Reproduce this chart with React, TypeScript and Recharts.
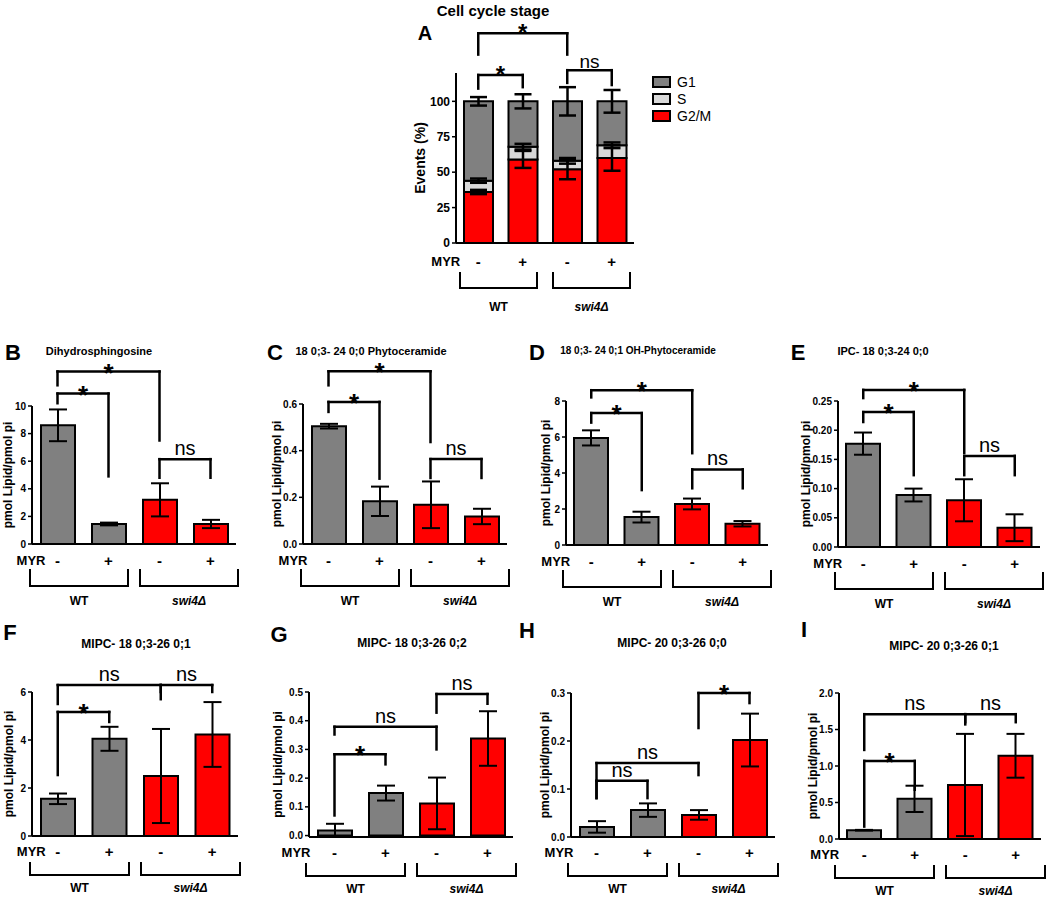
import React from 'react';
import { BarChart, Bar, XAxis, YAxis, ErrorBar, Cell, ReferenceLine, Legend } from 'recharts';

// categories shared by every panel
const CONDITIONS = ['WT-', 'WT+', 'swi4-', 'swi4+'];
const MYR_SIGNS = ['-', '+', '-', '+'];
const GROUPS = ['WT', 'swi4Δ'];
const GRAY = '#808080';
const RED = '#ff0000';
const BAR_COLORS = [GRAY, GRAY, RED, RED];

// A: cell cycle stage, events (%)
const STAGES = ['G1', 'S', 'G2/M'];
const STAGE_COLORS: Record<string, string> = { G1: GRAY, S: '#d9d9d9', 'G2/M': RED };
const A_G2M = [36, 59, 52, 60];
const A_G2M_ERR = [1.5, 6, 7, 9];
const A_S = [8, 9, 6, 9];
const A_S_ERR = [1.5, 2, 2, 2];
const A_G1 = [56, 32, 42, 31];
const A_G1_ERR = [3, 5, 10, 8];
const A_TICKS = [0, 25, 50, 75, 100];

// significance brackets: [from, to, height, left leg end, right leg end, text]
type Sig = [number, number, number, number, number, string];
const A_SIG: Sig[] = [
  [0, 2, 148, 133, 133, '*'],
  [0, 1, 118.6, 109, 110, '*'],
  [2, 3, 122, 113, 111.5, 'ns'],
];

// B: Dihydrosphingosine
const B_MEAN = [8.6, 1.45, 3.2, 1.45];
const B_ERR = [1.15, 0.1, 1.2, 0.3];
const B_TICKS = [0, 2, 4, 6, 8, 10];
const B_SIG: Sig[] = [
  [0, 2, 12.5, 11.5, 7.5, '*'],
  [0, 1, 10.9, 10.2, 4.9, '*'],
  [2, 3, 6.15, 4.8, 4.8, 'ns'],
];

// C: 18 0;3- 24 0;0 Phytoceramide
const C_MEAN = [0.505, 0.183, 0.168, 0.118];
const C_ERR = [0.01, 0.063, 0.1, 0.033];
const C_TICKS = [0, 0.2, 0.4, 0.6];
const C_SIG: Sig[] = [
  [0, 2, 0.74, 0.68, 0.437, '*'],
  [0, 1, 0.609, 0.566, 0.28, '*'],
  [2, 3, 0.364, 0.283, 0.283, 'ns'],
];

// D: 18 0;3- 24 0;1 OH-Phytoceramide
const D_MEAN = [5.95, 1.55, 2.28, 1.18];
const D_ERR = [0.42, 0.3, 0.3, 0.15];
const D_TICKS = [0, 2, 4, 6, 8];
const D_SIG: Sig[] = [
  [0, 2, 8.6, 8.2, 5.1, '*'],
  [0, 1, 7.33, 6.8, 3.05, '*'],
  [2, 3, 4.2, 3.15, 3.15, 'ns'],
];

// E: IPC- 18 0;3-24 0;0
const E_MEAN = [0.177, 0.089, 0.08, 0.033];
const E_ERR = [0.019, 0.011, 0.036, 0.023];
const E_TICKS = [0, 0.05, 0.1, 0.15, 0.2, 0.25];
const E_SIG: Sig[] = [
  [0, 2, 0.269, 0.255, 0.161, '*'],
  [0, 1, 0.231, 0.214, 0.123, '*'],
  [2, 3, 0.156, 0.123, 0.123, 'ns'],
];

// F: MIPC- 18 0;3-26 0;1
const F_MEAN = [1.55, 4.05, 2.5, 4.23];
const F_ERR = [0.22, 0.5, 1.96, 1.35];
const F_TICKS = [0, 2, 4, 6];
const F_SIG: Sig[] = [
  [0, 2, 6.29, 5.5, 6.0, 'ns'],
  [2, 3, 6.29, 5.7, 6.0, 'ns'],
  [0, 1, 5.17, 2.54, 4.75, '*'],
];

// G: MIPC- 18 0;3-26 0;2
const G_MEAN = [0.018, 0.148, 0.112, 0.338];
const G_ERR = [0.023, 0.026, 0.09, 0.095];
const G_TICKS = [0, 0.1, 0.2, 0.3, 0.4, 0.5];
const G_SIG: Sig[] = [
  [0, 2, 0.379, 0.352, 0.3, 'ns'],
  [2, 3, 0.493, 0.428, 0.459, 'ns'],
  [0, 1, 0.283, 0.07, 0.248, '*'],
];

// H: MIPC- 20 0;3-26 0;0
const H_MEAN = [0.021, 0.056, 0.046, 0.202];
const H_ERR = [0.012, 0.014, 0.01, 0.055];
const H_TICKS = [0, 0.1, 0.2, 0.3];
const H_SIG: Sig[] = [
  [2, 3, 0.3, 0.227, 0.279, '*'],
  [0, 2, 0.154, 0.081, 0.129, 'ns'],
  [0, 1, 0.117, 0.081, 0.081, 'ns'],
];

// I: MIPC- 20 0;3-26 0;1
const I_MEAN = [0.12, 0.55, 0.74, 1.14];
const I_ERR = [0.005, 0.18, 0.7, 0.3];
const I_TICKS = [0, 0.5, 1, 1.5, 2];
const I_SIG: Sig[] = [
  [0, 2, 1.71, 1.22, 1.57, 'ns'],
  [2, 3, 1.71, 1.6, 1.6, 'ns'],
  [0, 1, 1.07, 0.17, 0.675, '*'],
];

const TOP_M = 100;
const Y_W = 60;
const X_H = 75;
const FONT = "'Liberation Sans', Arial, sans-serif";

type Rows = { myr: number; bTop: number; bBot: number; lab: number; bw: number; gap: number };
type SigStyle = { starFs: number; starDy: number; nsFs: number; nsDy: number };

const ROWS_A: Rows = { myr: 18, bTop: 29, bBot: 45, lab: 64, bw: 77, gap: 8 };
const ROWS_TOP: Rows = { myr: 16, bTop: 25, bBot: 42, lab: 57, bw: 98, gap: 6 };
const ROWS_BOT: Rows = { myr: 15, bTop: 26, bBot: 39, lab: 52, bw: 99, gap: 6 };

const SIG_A: SigStyle = { starFs: 24, starDy: 8, nsFs: 19, nsDy: -2 };
const SIG_LIPID: SigStyle = { starFs: 26, starDy: 10, nsFs: 20, nsDy: -4 };

function frame(plot: number[], rightM: number) {
  const [l, t, r, b] = plot;
  return { left: l - Y_W, top: t - TOP_M, width: Y_W + (r - l) + rightM, height: TOP_M + (b - t) + X_H };
}

function sigLabel(text: string, st: SigStyle) {
  return (props: any) => {
    const vb = props.viewBox || {};
    let cx = 0;
    let cy = 0;
    if (vb.x1 !== undefined) {
      cx = (vb.x1 + vb.x2) / 2;
      cy = Math.min(vb.y1, vb.y2);
    } else {
      cx = vb.x + (vb.width || 0) / 2;
      cy = vb.y;
    }
    const star = text === '*';
    return (
      <text
        x={cx}
        y={cy + (star ? st.starDy : st.nsDy)}
        textAnchor="middle"
        fontSize={star ? st.starFs : st.nsFs}
        fontWeight={star ? 700 : 400}
        fill="#000"
      >
        {text}
      </text>
    );
  };
}

function sigLines(sigs: Sig[], key: string, st: SigStyle) {
  const out: React.ReactNode[] = [];
  const line = { stroke: '#000', strokeWidth: 2.5, strokeLinecap: 'square' as const, ifOverflow: 'visible' as const };
  sigs.forEach(([a, b, top, le, re, txt], i) => {
    const xa = CONDITIONS[a];
    const xb = CONDITIONS[b];
    out.push(
      <ReferenceLine key={`${key}-h${i}`} {...line} segment={[{ x: xa, y: top }, { x: xb, y: top }]} label={sigLabel(txt, st)} />
    );
    out.push(<ReferenceLine key={`${key}-l${i}`} {...line} segment={[{ x: xa, y: top }, { x: xa, y: le }]} />);
    out.push(<ReferenceLine key={`${key}-r${i}`} {...line} segment={[{ x: xb, y: top }, { x: xb, y: re }]} />);
  });
  return out;
}

function makeTick(band: number, myrDx: number, rows: Rows) {
  const signFs = 15;
  const myrFs = 13;
  const labFs = 12;
  return (p: any) => {
    const i = CONDITIONS.indexOf(p.payload?.value);
    const x = p.x;
    const y = p.y;
    const ty = y + rows.myr;
    const els: React.ReactNode[] = [];
    if (i === 0) {
      els.push(
        <text key="m" x={x + myrDx} y={ty} textAnchor="end" dominantBaseline="central" fontSize={myrFs} fontWeight={700} fill="#000">
          MYR
        </text>
      );
    }
    els.push(
      <text key="s" x={x} y={ty} textAnchor="middle" dominantBaseline="central" fontSize={signFs} fontWeight={700} fill="#000">
        {MYR_SIGNS[i]}
      </text>
    );
    if (i === 1 || i === 2) {
      const mid = i === 1 ? x + band / 2 : x - band / 2;
      const left = i === 1 ? mid - rows.gap - rows.bw : mid + rows.gap;
      const right = left + rows.bw;
      els.push(
        <path
          key="b"
          d={`M${left},${y + rows.bTop}L${left},${y + rows.bBot}L${right},${y + rows.bBot}L${right},${y + rows.bTop}`}
          fill="none"
          stroke="#000"
          strokeWidth={2}
        />
      );
      els.push(
        <text
          key="g"
          x={(left + right) / 2}
          y={y + rows.lab}
          textAnchor="middle"
          dominantBaseline="central"
          fontSize={labFs}
          fontWeight={700}
          fontStyle={i === 2 ? 'italic' : 'normal'}
          fill="#000"
        >
          {GROUPS[i - 1]}
        </text>
      );
    }
    return <g>{els}</g>;
  };
}

interface LipidCfg {
  plot: number[];
  mean: number[];
  err: number[];
  ticks: number[];
  dec: number;
  sig: Sig[];
  rows: Rows;
  yDx: number;
  myrDx: number;
  id: string;
}

function LipidPanel({ cfg }: { cfg: LipidCfg }) {
  const f = frame(cfg.plot, 20);
  const band = (cfg.plot[2] - cfg.plot[0]) / 4;
  const data = CONDITIONS.map((id, i) => ({ id, mean: cfg.mean[i], err: cfg.err[i] }));
  const top = cfg.ticks[cfg.ticks.length - 1];
  return (
    <div style={{ position: 'absolute', left: f.left, top: f.top }}>
      <BarChart width={f.width} height={f.height} data={data} margin={{ top: TOP_M, right: 20, left: 0, bottom: 0 }}>
        <XAxis
          dataKey="id"
          type="category"
          height={X_H}
          interval={0}
          tickLine={false}
          tickSize={0}
          tickMargin={0}
          axisLine={{ stroke: '#000', strokeWidth: 2 }}
          tick={makeTick(band, cfg.myrDx, cfg.rows)}
        />
        <YAxis
          width={Y_W}
          domain={[0, top]}
          ticks={cfg.ticks}
          interval={0}
          tickFormatter={(v: number) => v.toFixed(cfg.dec)}
          tick={{ fontSize: 10, fontWeight: 700, fill: '#000' }}
          axisLine={{ stroke: '#000', strokeWidth: 2 }}
          tickLine={{ stroke: '#000', strokeWidth: 1.5 }}
          tickSize={4}
          tickMargin={2}
          label={{
            value: 'pmol Lipid/pmol pi',
            angle: -90,
            position: 'center',
            dx: cfg.yDx,
            style: { fontSize: 12, fontWeight: 700, fill: '#000' },
          }}
        />
        <Bar dataKey="mean" barSize={34} stroke="#000" strokeWidth={2} isAnimationActive={false}>
          {data.map((d, i) => (
            <Cell key={d.id} fill={BAR_COLORS[i]} />
          ))}
          <ErrorBar dataKey="err" width={9} stroke="#000" strokeWidth={2} direction="y" isAnimationActive={false} />
        </Bar>
        {sigLines(cfg.sig, cfg.id, SIG_LIPID)}
      </BarChart>
    </div>
  );
}

function StageLegend(props: any) {
  const payload: any[] = props.payload || [];
  return (
    <div style={{ fontFamily: FONT }}>
      {STAGES.map((name) => {
        const p = payload.find((q) => q.value === name);
        const color = (p && p.color) || STAGE_COLORS[name];
        return (
          <div key={name} style={{ display: 'flex', alignItems: 'center', height: 17 }}>
            <div style={{ width: 15, height: 8, background: color, border: '2px solid #000', marginRight: 6 }} />
            <span style={{ fontSize: 14, color: '#000' }}>{name}</span>
          </div>
        );
      })}
    </div>
  );
}

function CellCyclePanel() {
  const plot = [456, 73, 634, 243];
  const f = frame(plot, 110);
  const band = (plot[2] - plot[0]) / 4;
  const data = CONDITIONS.map((id, i) => ({
    id,
    g2m: A_G2M[i],
    g2mErr: A_G2M_ERR[i],
    s: A_S[i],
    sErr: A_S_ERR[i],
    g1: A_G1[i],
    g1Err: A_G1_ERR[i],
  }));
  return (
    <div style={{ position: 'absolute', left: f.left, top: f.top }}>
      <BarChart width={f.width} height={f.height} data={data} margin={{ top: TOP_M, right: 110, left: 0, bottom: 0 }}>
        <XAxis
          dataKey="id"
          type="category"
          height={X_H}
          interval={0}
          tickLine={false}
          tickSize={0}
          tickMargin={0}
          axisLine={{ stroke: '#000', strokeWidth: 2 }}
          tick={makeTick(band, -18, ROWS_A)}
        />
        <YAxis
          width={Y_W}
          domain={[0, 120]}
          ticks={A_TICKS}
          interval={0}
          tick={{ fontSize: 12, fontWeight: 700, fill: '#000' }}
          axisLine={{ stroke: '#000', strokeWidth: 2 }}
          tickLine={{ stroke: '#000', strokeWidth: 1.5 }}
          tickSize={4}
          tickMargin={2}
          label={{
            value: 'Events (%)',
            angle: -90,
            position: 'center',
            dx: -6,
            style: { fontSize: 14, fontWeight: 700, fill: '#000' },
          }}
        />
        <Bar dataKey="g2m" name="G2/M" stackId="a" fill={STAGE_COLORS['G2/M']} stroke="#000" strokeWidth={2} barSize={29} isAnimationActive={false}>
          <ErrorBar dataKey="g2mErr" width={8.5} stroke="#000" strokeWidth={2.5} direction="y" isAnimationActive={false} />
        </Bar>
        <Bar dataKey="s" name="S" stackId="a" fill={STAGE_COLORS.S} stroke="#000" strokeWidth={2} barSize={29} isAnimationActive={false}>
          <ErrorBar dataKey="sErr" width={8.5} stroke="#000" strokeWidth={2.5} direction="y" isAnimationActive={false} />
        </Bar>
        <Bar dataKey="g1" name="G1" stackId="a" fill={STAGE_COLORS.G1} stroke="#000" strokeWidth={2} barSize={29} isAnimationActive={false}>
          <ErrorBar dataKey="g1Err" width={8.5} stroke="#000" strokeWidth={2.5} direction="y" isAnimationActive={false} />
        </Bar>
        <Legend
          layout="horizontal"
          verticalAlign="middle"
          align="center"
          content={StageLegend}
          wrapperStyle={{ left: 256, top: 100, width: 90 }}
        />
        {sigLines(A_SIG, 'a', SIG_A)}
      </BarChart>
    </div>
  );
}

const LIPID_PANELS: LipidCfg[] = [
  { id: 'B', plot: [32, 406, 236, 544], mean: B_MEAN, err: B_ERR, ticks: B_TICKS, dec: 0, sig: B_SIG, rows: ROWS_TOP, yDx: 6, myrDx: -12 },
  { id: 'C', plot: [303, 404, 507, 544], mean: C_MEAN, err: C_ERR, ticks: C_TICKS, dec: 1, sig: C_SIG, rows: ROWS_TOP, yDx: 3.5, myrDx: -21 },
  { id: 'D', plot: [566, 401, 768, 545], mean: D_MEAN, err: D_ERR, ticks: D_TICKS, dec: 0, sig: D_SIG, rows: ROWS_TOP, yDx: 10, myrDx: -21 },
  { id: 'E', plot: [838, 401, 1040, 547], mean: E_MEAN, err: E_ERR, ticks: E_TICKS, dec: 2, sig: E_SIG, rows: ROWS_TOP, yDx: -2, myrDx: -21 },
  { id: 'F', plot: [32, 692, 238, 836], mean: F_MEAN, err: F_ERR, ticks: F_TICKS, dec: 0, sig: F_SIG, rows: ROWS_BOT, yDx: 7, myrDx: -12 },
  { id: 'G', plot: [309, 692, 513, 837], mean: G_MEAN, err: G_ERR, ticks: G_TICKS, dec: 1, sig: G_SIG, rows: ROWS_BOT, yDx: -1, myrDx: -24 },
  { id: 'H', plot: [571, 693, 775, 837], mean: H_MEAN, err: H_ERR, ticks: H_TICKS, dec: 1, sig: H_SIG, rows: ROWS_BOT, yDx: 3.5, myrDx: -23 },
  { id: 'I', plot: [839, 693, 1041, 839], mean: I_MEAN, err: I_ERR, ticks: I_TICKS, dec: 1, sig: I_SIG, rows: ROWS_BOT, yDx: 4, myrDx: -25 },
];

// panel titles and letters: [text, centre x, centre y, font size]
const TITLES: [string, number, number, number][] = [
  ['Cell cycle stage', 493, 10, 15],
  ['Dihydrosphingosine', 99, 351, 11],
  ['18 0;3- 24 0;0 Phytoceramide', 371, 351, 11],
  ['18 0;3- 24 0;1 OH-Phytoceramide', 638, 351, 10],
  ['IPC- 18 0;3-24 0;0', 883, 351, 11],
  ['MIPC- 18 0;3-26 0;1', 136, 644, 12],
  ['MIPC- 18 0;3-26 0;2', 412, 643, 12],
  ['MIPC- 20 0;3-26 0;0', 672, 643, 12],
  ['MIPC- 20 0;3-26 0;1', 944, 646, 12],
];
const LETTERS: [string, number, number, number][] = [
  ['A', 425, 33, 20],
  ['B', 13, 353, 22],
  ['C', 275, 353, 22],
  ['D', 537, 353, 22],
  ['E', 798, 353, 22],
  ['F', 10, 633, 22],
  ['G', 279, 635, 22],
  ['H', 527, 631, 22],
  ['I', 804, 630, 22],
];

function FloatText({ t, x, y, fs }: { t: string; x: number; y: number; fs: number }) {
  return (
    <div
      style={{
        position: 'absolute',
        left: x,
        top: y,
        transform: 'translate(-50%, -50%)',
        fontSize: fs,
        fontWeight: 700,
        lineHeight: `${fs}px`,
        whiteSpace: 'nowrap',
      }}
    >
      {t}
    </div>
  );
}

export default function App() {
  return (
    <div style={{ position: 'absolute', left: 0, top: 0, width: 1050, height: 898, background: '#fff', fontFamily: FONT, overflow: 'hidden' }}>
      <CellCyclePanel />
      {LIPID_PANELS.map((cfg) => (
        <LipidPanel key={cfg.id} cfg={cfg} />
      ))}
      {TITLES.map(([t, x, y, fs]) => (
        <FloatText key={t} t={t} x={x} y={y} fs={fs} />
      ))}
      {LETTERS.map(([t, x, y, fs]) => (
        <FloatText key={t} t={t} x={x} y={y} fs={fs} />
      ))}
    </div>
  );
}
